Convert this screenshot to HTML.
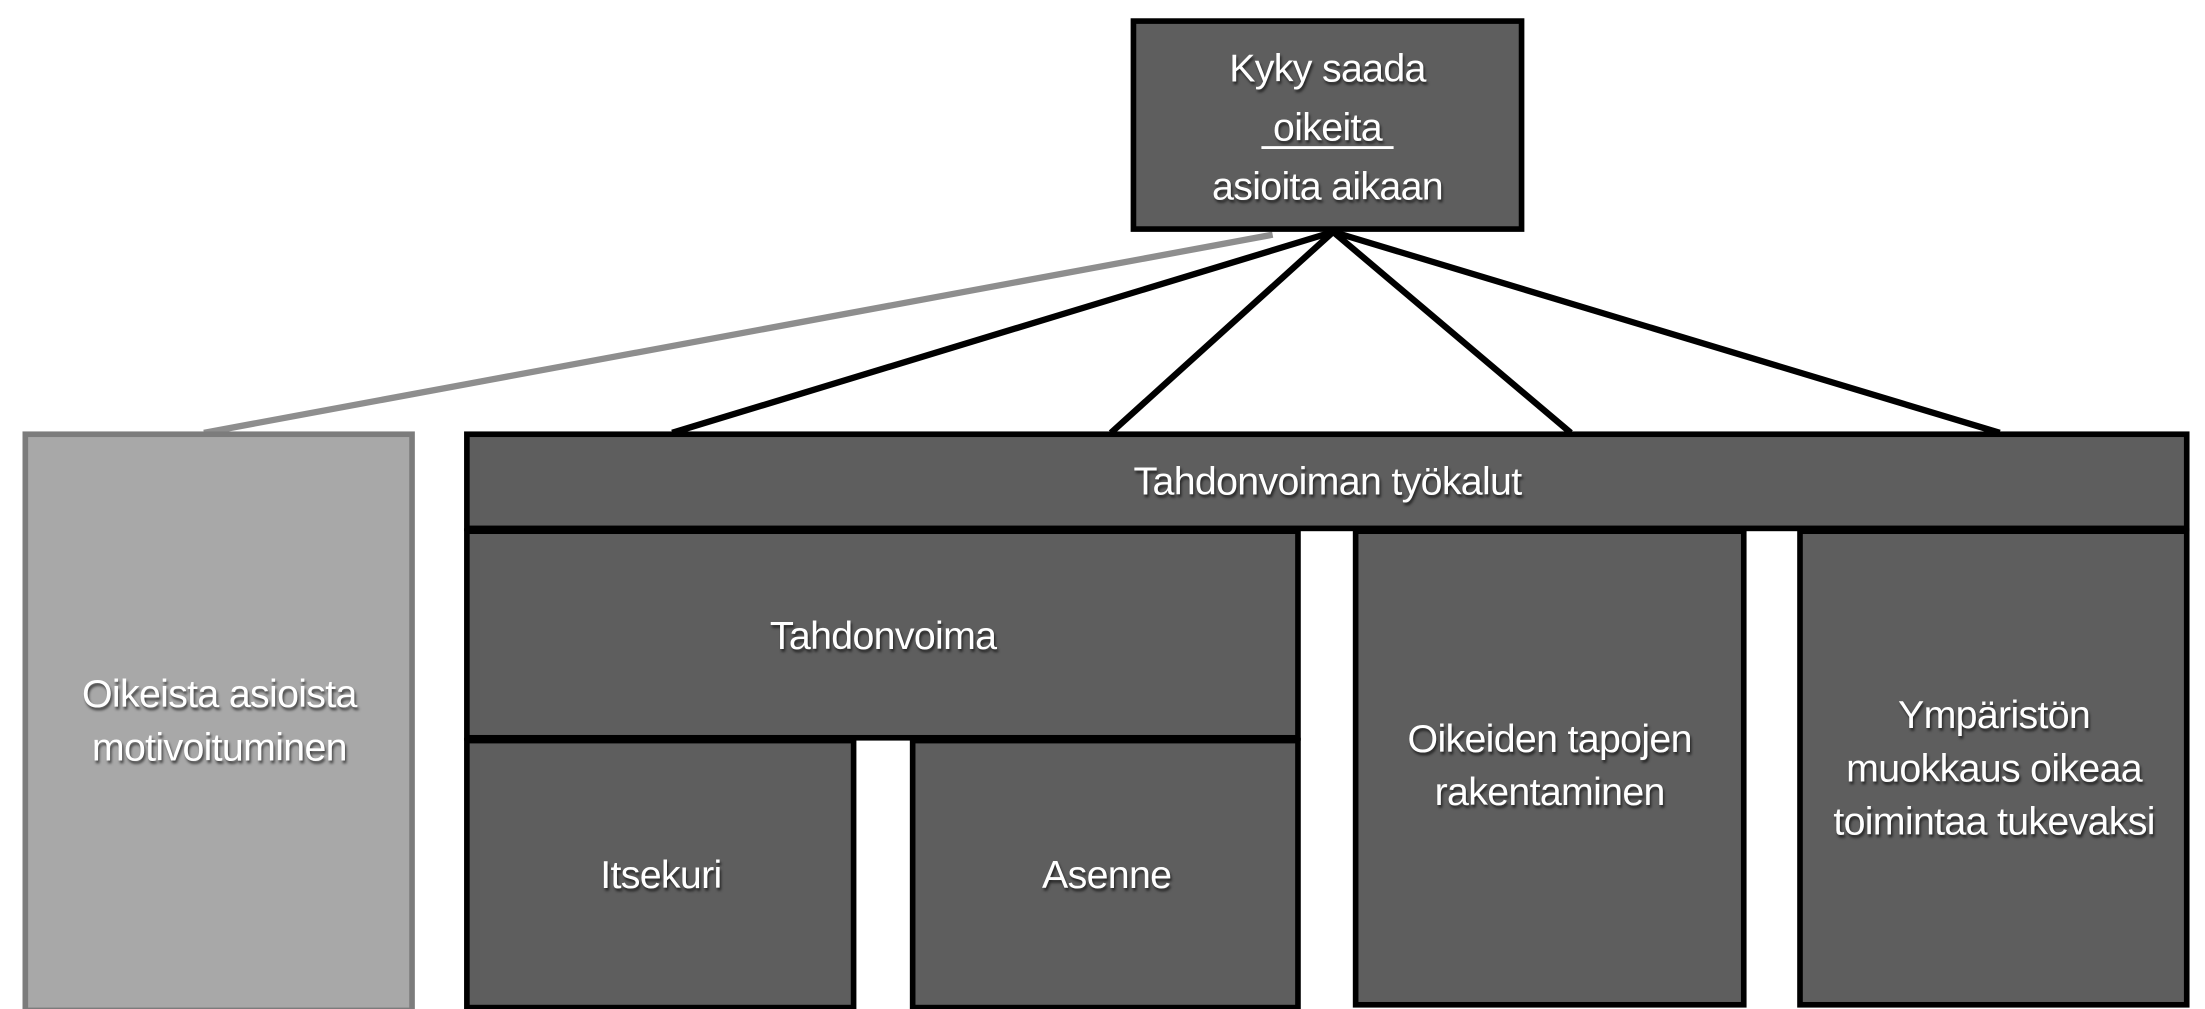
<!DOCTYPE html>
<html><head><meta charset="utf-8"><style>
html,body{margin:0;padding:0;background:#fff;}
svg{display:block;}
text{font-family:"Liberation Sans",sans-serif;font-size:28px;fill:#fff;text-anchor:middle;letter-spacing:-0.5px;filter:drop-shadow(1px 2px 1px rgba(0,0,0,0.6));}
</style></head><body>
<svg width="2205" height="1009" viewBox="0 0 1568 718" preserveAspectRatio="none" xmlns="http://www.w3.org/2000/svg">
<g stroke-width="4.5">
<line x1="905" y1="167" x2="145" y2="308" stroke="#8e8e8e"/>
<line x1="948" y1="165" x2="478" y2="308" stroke="#000"/>
<line x1="948" y1="165" x2="790" y2="308" stroke="#000"/>
<line x1="948" y1="165" x2="1117" y2="308" stroke="#000"/>
<line x1="948" y1="165" x2="1422" y2="308" stroke="#000"/>
</g>
<g stroke="#000" stroke-width="4" fill="#5e5e5e">
<rect x="806" y="15" width="276" height="148"/>
<rect x="332" y="309" width="1223" height="67"/>
<rect x="332" y="378" width="591" height="147"/>
<rect x="332" y="527" width="275" height="190"/>
<rect x="649" y="527" width="274" height="190"/>
<rect x="964" y="378" width="276" height="337"/>
<rect x="1280" y="378" width="275" height="337"/>
</g>
<rect x="18" y="309" width="275" height="410" fill="#a8a8a8" stroke="#7c7c7c" stroke-width="4"/>
<text x="944" y="58">Kyky saada</text>
<text x="944" y="100">oikeita</text>
<line x1="897" y1="105" x2="991" y2="105" stroke="#fff" stroke-width="2"/>
<text x="944" y="142">asioita aikaan</text>
<text x="944" y="352">Tahdonvoiman työkalut</text>
<text x="628" y="462">Tahdonvoima</text>
<text x="470" y="632">Itsekuri</text>
<text x="787" y="632">Asenne</text>
<text x="1102" y="535">Oikeiden tapojen</text>
<text x="1102" y="573">rakentaminen</text>
<text x="1418" y="518">Ympäristön</text>
<text x="1418" y="556">muokkaus oikeaa</text>
<text x="1418" y="594">toimintaa tukevaksi</text>
<text x="156" y="503">Oikeista asioista</text>
<text x="156" y="541">motivoituminen</text>
</svg>
</body></html>
